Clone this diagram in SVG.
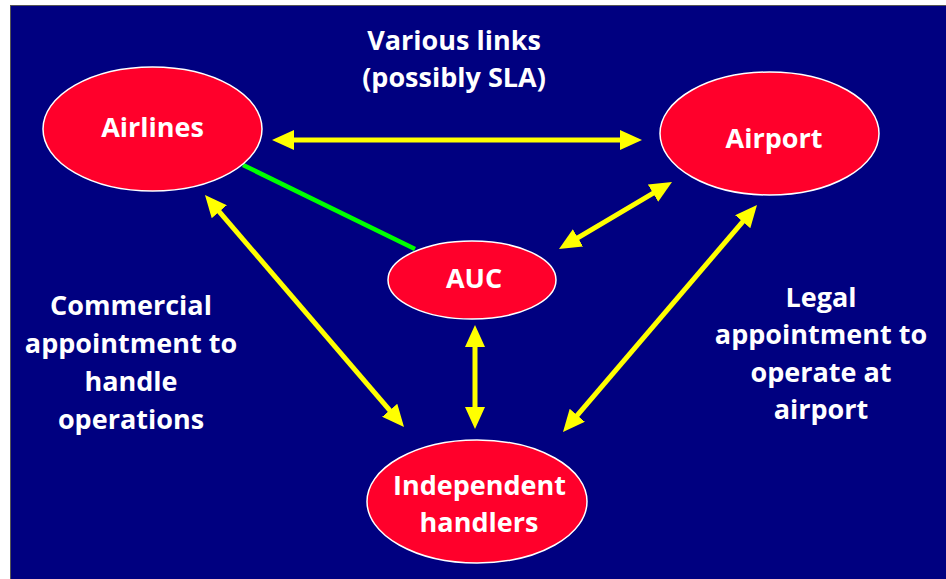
<svg xmlns="http://www.w3.org/2000/svg" width="946" height="579" viewBox="0 0 946 579">
<defs>
<style>
.node{fill:#ff002b;stroke:#ffffff;stroke-width:1.5}
.lbl{font-family:"Open Sans","Liberation Sans",sans-serif;font-weight:bold;font-size:27px;fill:#ffffff;text-anchor:middle}
.arr{stroke:#ffff00;stroke-width:5;fill:none;marker-start:url(#ah);marker-end:url(#ah)}
.grn{stroke:#00ff00;stroke-width:4.5;fill:none}
</style>
<marker id="ah" viewBox="0 -10 22 20" refX="12" refY="0" markerWidth="22" markerHeight="20" markerUnits="userSpaceOnUse" orient="auto-start-reverse">
<path d="M0,-10 L22,0 L0,10 z" fill="#ffff00"/>
</marker>
</defs>
<rect x="0" y="0" width="946" height="579" fill="#ffffff"/>
<rect x="10.5" y="5.5" width="940" height="580" fill="#000080" stroke="#555555" stroke-width="1"/>
<g id="connectors">
<line class="grn" x1="243" y1="165" x2="415" y2="249"/>
<line class="arr" x1="282" y1="140" x2="632" y2="140"/>
<line class="arr" x1="211.5" y1="202.6" x2="397.5" y2="419.4"/>
<line class="arr" x1="567.6" y1="243.9" x2="663.4" y2="187.1"/>
<line class="arr" x1="750.5" y1="212.6" x2="569.5" y2="424.4"/>
<line class="arr" x1="475" y1="335" x2="475" y2="419"/>
</g>
<g id="airlines">
<ellipse class="node" cx="152.5" cy="129" rx="109.5" ry="62"/>
<text class="lbl" x="152.5" y="137">Airlines</text>
</g>
<g id="airport">
<ellipse class="node" cx="769.5" cy="133.5" rx="109.5" ry="61.5"/>
<text class="lbl" x="774" y="148">Airport</text>
</g>
<g id="auc">
<ellipse class="node" cx="472" cy="280" rx="84" ry="39"/>
<text class="lbl" x="474" y="288">AUC</text>
</g>
<g id="handlers">
<ellipse class="node" cx="477" cy="501.5" rx="110" ry="61.5"/>
<text class="lbl" x="479.5" y="495">Independent</text>
<text class="lbl" x="479" y="532">handlers</text>
</g>
<g id="labels">
<text class="lbl" x="454" y="50">Various links</text>
<text class="lbl" x="454" y="87">(possibly SLA)</text>
<text class="lbl" x="131" y="315">Commercial</text>
<text class="lbl" x="131" y="353">appointment to</text>
<text class="lbl" x="131" y="391">handle</text>
<text class="lbl" x="131" y="429">operations</text>
<text class="lbl" x="821" y="307">Legal</text>
<text class="lbl" x="821" y="344">appointment to</text>
<text class="lbl" x="821" y="382">operate at</text>
<text class="lbl" x="821" y="419">airport</text>
</g>
</svg>
